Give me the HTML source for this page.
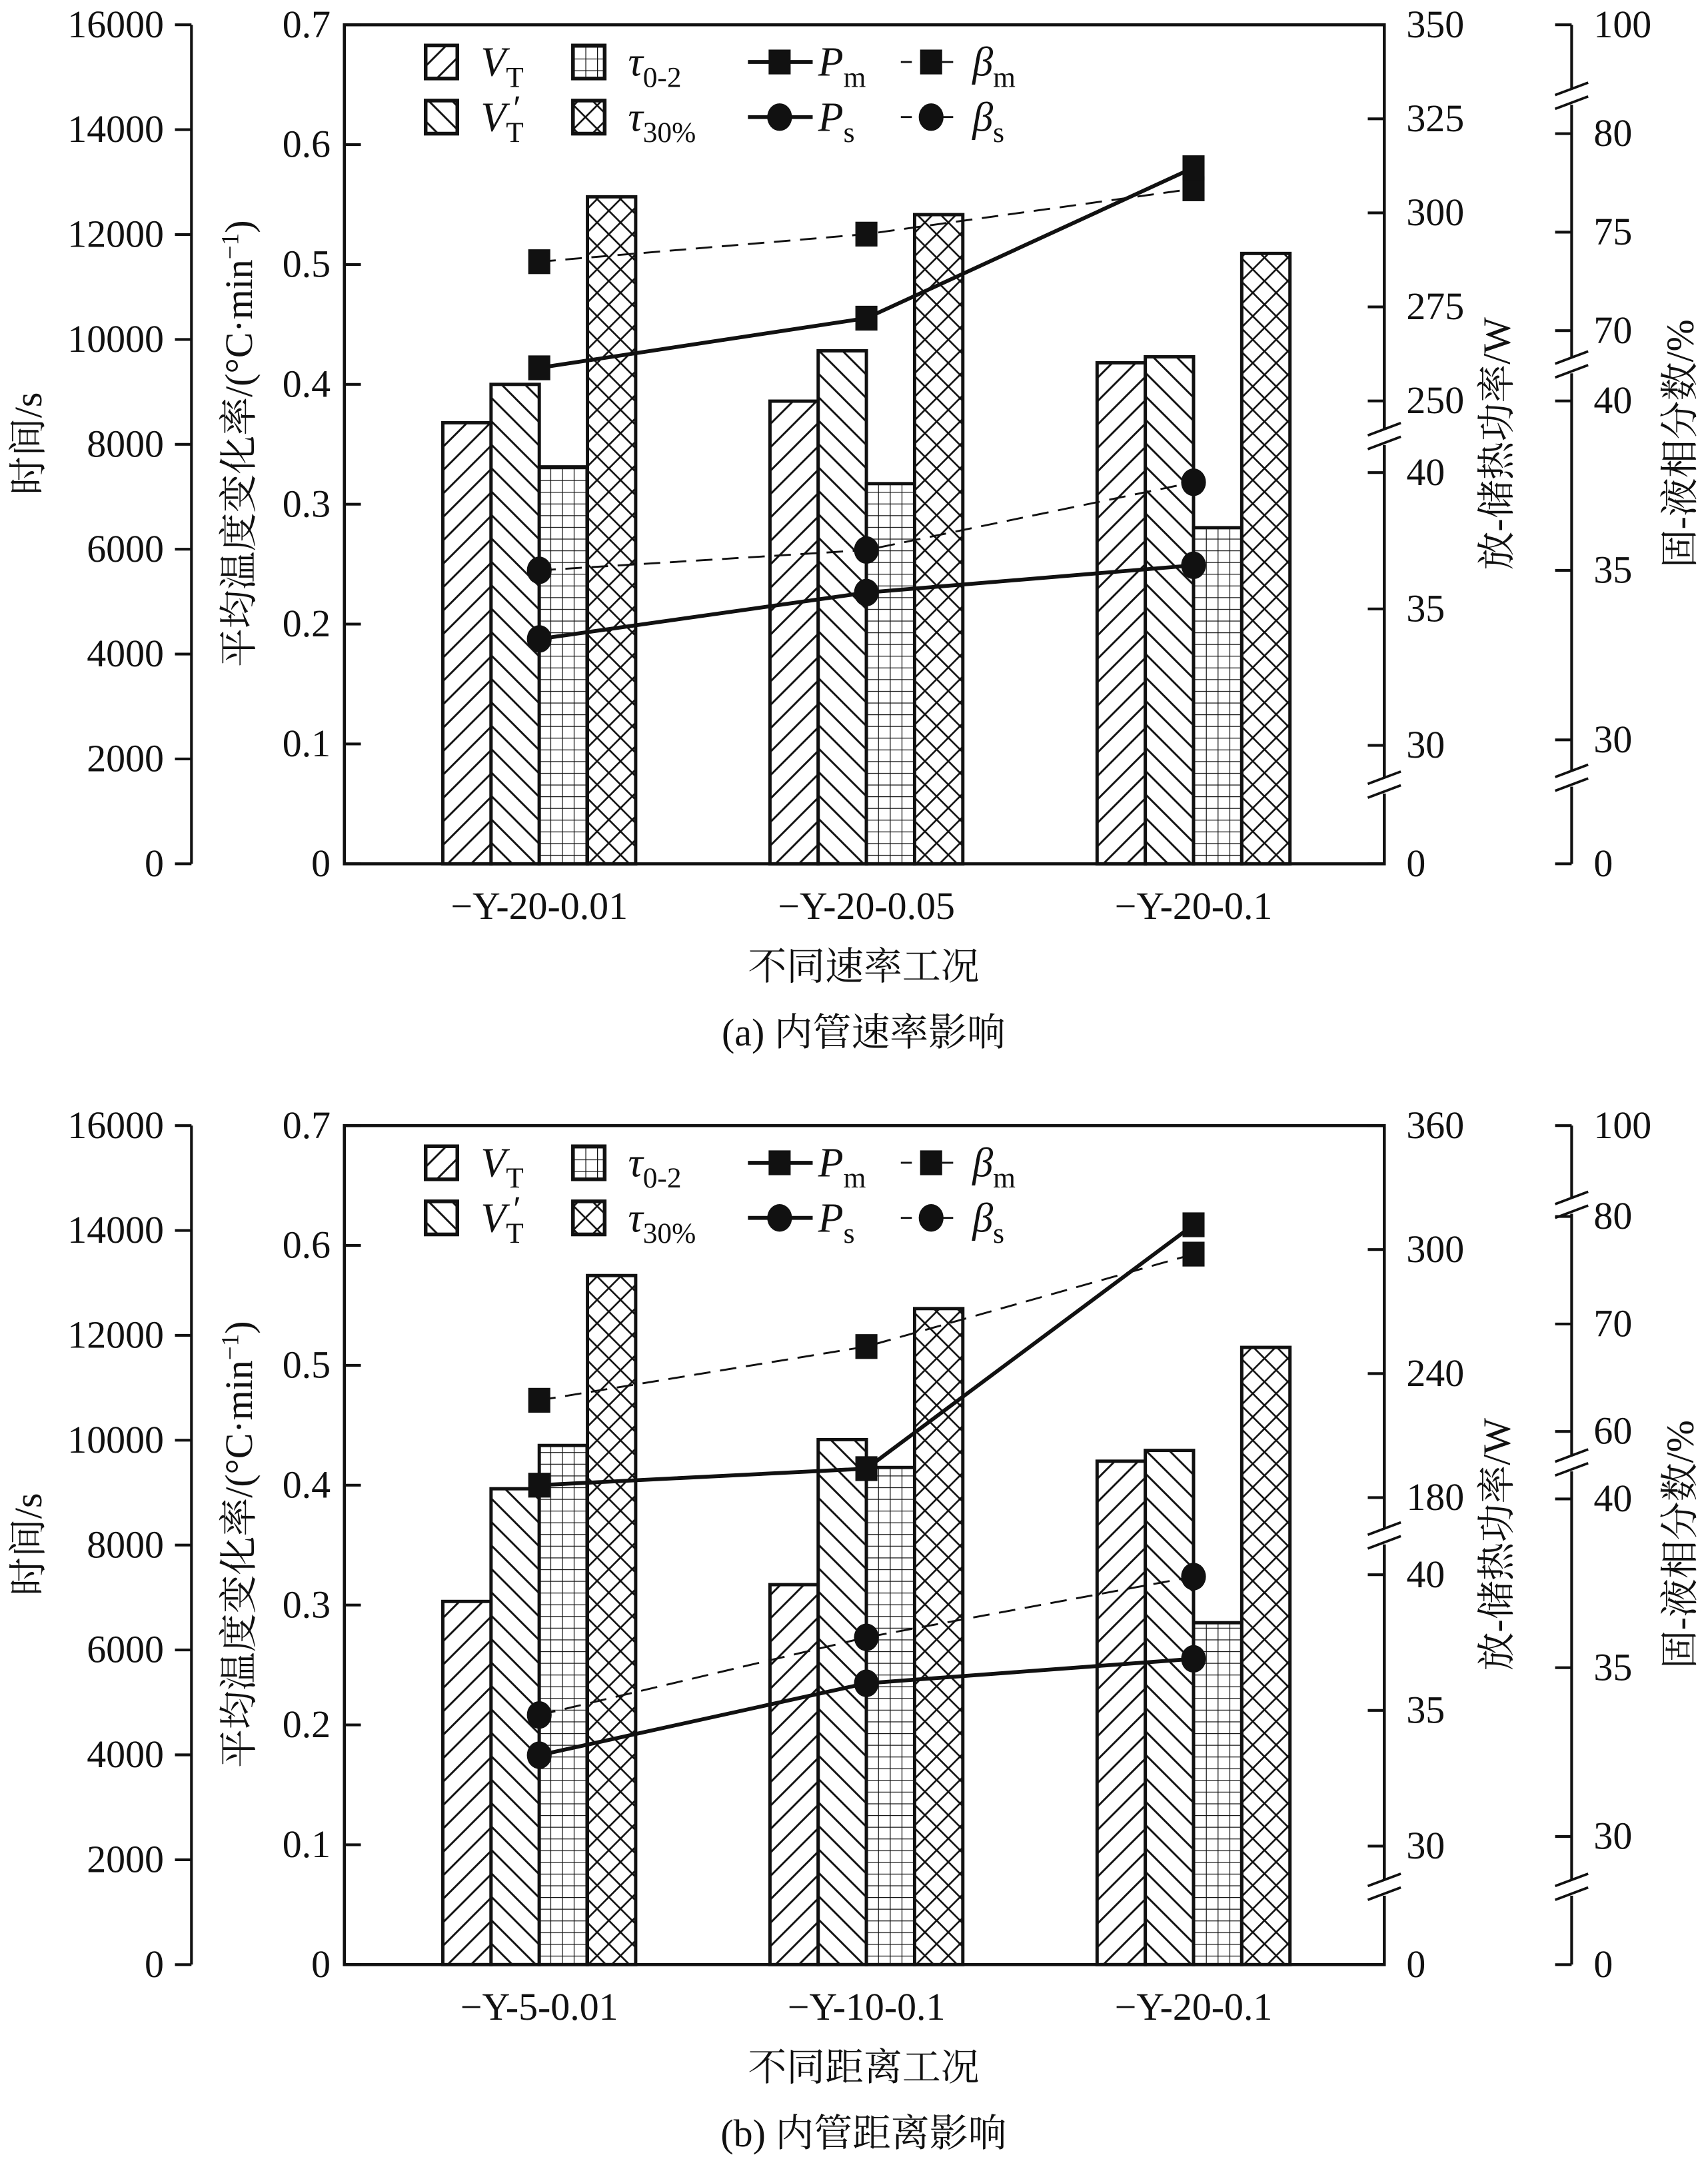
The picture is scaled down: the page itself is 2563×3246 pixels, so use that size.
<!DOCTYPE html>
<html><head><meta charset="utf-8">
<style>
html,body{margin:0;padding:0;background:#fff;}
svg{display:block;}
</style></head>
<body>
<svg id="chart" width="2563" height="3246" viewBox="0 0 1240 1570" preserveAspectRatio="none" xmlns="http://www.w3.org/2000/svg" font-family="'Liberation Serif','Times New Roman','Noto Serif CJK SC',serif" fill="#111">
<defs>
<pattern id="pFwd" patternUnits="userSpaceOnUse" width="17" height="17"><path d="M-2,19 L19,-2 M-2,2 L2,-2 M15,19 L19,15" stroke="#111" stroke-width="1.4"/></pattern>
<pattern id="pBack" patternUnits="userSpaceOnUse" width="17" height="17"><path d="M-2,-2 L19,19 M15,-2 L19,2 M-2,15 L2,19" stroke="#111" stroke-width="1.4"/></pattern>
<pattern id="pGrid" patternUnits="userSpaceOnUse" width="8.5" height="8.5"><path d="M0,0 H8.5 M0,0 V8.5" stroke="#111" stroke-width="1.2"/></pattern>
<pattern id="pCross" patternUnits="userSpaceOnUse" width="17" height="17"><path d="M-1,-1 L18,18 M-1,18 L18,-1" stroke="#111" stroke-width="1.3"/></pattern>
</defs>
<g id="root"></g>
</svg>
<script>
// ---------- data ----------
const catsA = ["−Y-20-0.01","−Y-20-0.05","−Y-20-0.1"];
const catsB = ["−Y-5-0.01","−Y-10-0.1","−Y-20-0.1"];
const vtA = [0.368,0.386,0.418];
const vtpA = [0.400,0.428,0.423];
const tau02A = [7570,7250,6410];
const tau30A = [12720,12380,11640];
const pmA = [258.8,272,312];
const betamA = [73.5,74.9,77.2];
const psA = [33.9,35.6,36.6];
const betasA = [35.0,35.6,37.6];
const vtB = [0.303,0.317,0.420];
const vtpB = [0.397,0.438,0.429];
const tau02B = [9900,9480,6520];
const tau30B = [13140,12510,11770];
const pmB = [186,194,312];
const betamB = [62.9,67.9,76.5];
const psB = [33.35,36.0,36.9];
const betasB = [33.6,35.9,37.7];
const timeTicks = [0,2000,4000,6000,8000,10000,12000,14000,16000];
const rateTicks = [0,0.1,0.2,0.3,0.4,0.5,0.6,0.7];
const powerTicksA = [0,30,35,40,250,275,300,325,350];
const powerTicksB = [0,30,35,40,180,240,300,360];
const fracTicksA = [0,30,35,40,70,75,80,100];
const fracTicksB = [0,30,35,40,60,70,80,100];
// axis knots: [value, offset from panel top]
const powerKnotsA = [[0,609],[30,523],[40,325],[250,273],[350,0]];
const powerKnotsB = [[0,609],[30,523],[40,326],[180,270],[360,0]];
const fracKnotsA = [[0,609],[30,519],[40,273],[70,222],[80,79],[100,0]];
const fracKnotsB = [[0,609],[30,516],[40,271],[60,222],[80,66],[100,0]];
// ---------- helpers ----------
const NS="http://www.w3.org/2000/svg";
const root=document.getElementById('root');
function mk(tag,attrs,parent){const e=document.createElementNS(NS,tag);for(const k in attrs)e.setAttribute(k,attrs[k]);(parent||root).appendChild(e);return e;}
function interp(knots,v){for(let i=0;i<knots.length-1;i++){const a=knots[i],b=knots[i+1];if(v<=b[0]||i===knots.length-2){return a[1]+(v-a[0])/(b[0]-a[0])*(b[1]-a[1]);}}}
const BL=250,BR=1005,H=609,TX=139,FX=1141;
function drawPanel(P){
  const top=P.top, bot=top+H;
  const g=mk('g',{});
  
  
  const yRate=v=>bot-v/0.7*H;
  const yTime=v=>bot-v/16000*H;
  const yPow=v=>top+interp(P.pk,v);
  const yFrac=v=>top+interp(P.fk,v);
  const xCat=i=>629+(i-1)*237.5;
  const bw=35;
  const series=[[P.vt,yRate,'url(#pFwd)','bar-vt'],[P.vtp,yRate,'url(#pBack)','bar-vt-prime'],[P.t02,yTime,'url(#pGrid)','bar-tau-0-2'],[P.t30,yTime,'url(#pCross)','bar-tau-30']];
  series.forEach((s,si)=>{s[0].forEach((v,i)=>{
    const x=xCat(i)-2*bw+si*bw, y=s[1](v);
    mk('rect',{x:x,y:y,width:bw,height:bot-y,fill:'#fff',stroke:'none'},g);
    const r2=mk('rect',{x:x,y:y,width:bw,height:bot-y,fill:s[2],stroke:'#111','stroke-width':2.4},g);
    
    
  });});
  function line(vals,fy,dash,marker,name){
    const pts=vals.map((v,i)=>[xCat(i),fy(v)]);
    const pl=mk('polyline',{points:pts.map(p=>p.join(',')).join(' '),fill:'none',stroke:'#111','stroke-width':dash?1.4:2.8,'stroke-dasharray':dash?'12,7':'none'},g);
    
    
    pts.forEach((p,i)=>{
      let m;
      if(marker==='sq') m=mk('rect',{x:p[0]-8,y:p[1]-9,width:16,height:18,fill:'#111'},g);
      else m=mk('ellipse',{cx:p[0],cy:p[1],rx:9,ry:10,fill:'#111'},g);
      
      
    });
  }
  line(P.bm,yFrac,true,'sq','beta-m');
  line(P.pm,yPow,false,'sq','p-m');
  line(P.bs,yFrac,true,'ci','beta-s');
  line(P.ps,yPow,false,'ci','p-s');
  const box=mk('rect',{x:BL,y:top,width:BR-BL,height:H,fill:'none',stroke:'#111','stroke-width':2.2},g);
  
  
  mk('line',{x1:TX,y1:top,x2:TX,y2:bot,stroke:'#111','stroke-width':2},g);
  timeTicks.forEach(t=>{const y=yTime(t);mk('line',{x1:TX-12,y1:y,x2:TX,y2:y,stroke:'#111','stroke-width':2},g);
    const tx=mk('text',{x:TX-20,y:y+9,'font-size':28,'text-anchor':'end'},g);tx.textContent=t;
    });
  rateTicks.forEach(t=>{const y=yRate(t);mk('line',{x1:BL,y1:y,x2:BL+12,y2:y,stroke:'#111','stroke-width':2},g);
    const tx=mk('text',{x:BL-10,y:y+9,'font-size':28,'text-anchor':'end'},g);tx.textContent=t;
    });
  P.pt.forEach(t=>{const y=yPow(t);mk('line',{x1:BR-12,y1:y,x2:BR,y2:y,stroke:'#111','stroke-width':2},g);
    const tx=mk('text',{x:BR+16,y:y+9,'font-size':28},g);tx.textContent=t;
    });
  mk('line',{x1:FX,y1:top,x2:FX,y2:bot,stroke:'#111','stroke-width':2},g);
  P.ft.forEach(t=>{const y=yFrac(t);mk('line',{x1:FX-12,y1:y,x2:FX,y2:y,stroke:'#111','stroke-width':2},g);
    const tx=mk('text',{x:FX+16,y:y+9,'font-size':28},g);tx.textContent=t;
    });
  function brk(x,y){mk('rect',{x:x-4,y:y-6,width:8,height:12,fill:'#fff'},g);
    mk('path',{d:`M${x-12},${y-1} L${x+12},${y-10} M${x-12},${y+9} L${x+12},${y}`,stroke:'#111','stroke-width':1.8,fill:'none'},g);}
  P.pb.forEach(y=>brk(BR,top+y));
  P.fb.forEach(y=>brk(FX,top+y));
  P.cats.forEach((c,i)=>{const t=mk('text',{x:xCat(i),y:bot+40,'font-size':28,'text-anchor':'middle'},g);t.textContent=c;
    });
  const xt=mk('text',{x:627,y:bot+84,'font-size':28,'text-anchor':'middle'},g);xt.textContent=P.xtitle;
  
  const cap=mk('text',{x:627,y:bot+132,'font-size':28,'text-anchor':'middle'},g);cap.textContent=P.caption;
  
  const cy=top+304;
  function vt(x,txt,name){const t=mk('text',{x:x,y:cy,'font-size':28,'text-anchor':'middle',transform:`rotate(-90 ${x} ${cy})`},g);t.innerHTML=txt;
    }
  vt(30,'时间/s','time-axis-title');
  vt(183,'平均温度变化率/(°C·min<tspan font-size="18" dy="-10">−1</tspan><tspan dy="10">)</tspan>','rate-axis-title');
  vt(1096,'放-储热功率/W','power-axis-title');
  vt(1229,'固-液相分数/%','fraction-axis-title');
  const lg=mk('g',{},g);
  
  
  const r1=top+27,r2=top+67;
  function lbox(x,y,fill){mk('rect',{x:x,y:y-12,width:23,height:24,fill:'#fff',stroke:'#111','stroke-width':2.6},lg);
    mk('rect',{x:x,y:y-12,width:23,height:24,fill:fill,stroke:'#111','stroke-width':2.6},lg);}
  function ltxt(x,y,main,sub,prime){const t=mk('text',{x:x,y:y+10,'font-size':30,'font-style':'italic'},lg);
    t.innerHTML=main+'<tspan font-style="normal" font-size="21" dy="8">'+sub+'</tspan>';
    if(prime){const p=mk('text',{x:x+22,y:y+2,'font-size':26,'font-style':'italic'},lg);p.textContent='′';}}
  lbox(309,r1,'url(#pFwd)');ltxt(349,r1,'V','T');
  lbox(309,r2,'url(#pBack)');ltxt(349,r2,'V','T',true);
  lbox(416,r1,'url(#pGrid)');ltxt(456,r1,'τ','0-2');
  lbox(416,r2,'url(#pCross)');ltxt(456,r2,'τ','30%');
  mk('line',{x1:543,y1:r1,x2:590,y2:r1,stroke:'#111','stroke-width':2.8},lg);mk('rect',{x:558,y:r1-9,width:16,height:18,fill:'#111'},lg);ltxt(594,r1,'P','m');
  mk('line',{x1:543,y1:r2,x2:590,y2:r2,stroke:'#111','stroke-width':2.8},lg);mk('ellipse',{cx:566,cy:r2,rx:9,ry:10,fill:'#111'},lg);ltxt(594,r2,'P','s');
  mk('line',{x1:654,y1:r1,x2:698,y2:r1,stroke:'#111','stroke-width':1.4,'stroke-dasharray':'8,7'},lg);mk('rect',{x:668,y:r1-9,width:16,height:18,fill:'#111'},lg);ltxt(706,r1,'β','m');
  mk('line',{x1:654,y1:r2,x2:698,y2:r2,stroke:'#111','stroke-width':1.4,'stroke-dasharray':'8,7'},lg);mk('ellipse',{cx:676,cy:r2,rx:9,ry:10,fill:'#111'},lg);ltxt(706,r2,'β','s');
}
drawPanel({name:'panel-a',top:18,cats:catsA,vt:vtA,vtp:vtpA,t02:tau02A,t30:tau30A,pm:pmA,bm:betamA,ps:psA,bs:betasA,
  pk:powerKnotsA,fk:fracKnotsA,pt:powerTicksA,ft:fracTicksA,pb:[552,299],fb:[547,247,52],xtitle:'不同速率工况',caption:'(a) 内管速率影响'});
drawPanel({name:'panel-b',top:817,cats:catsB,vt:vtB,vtp:vtpB,t02:tau02B,t30:tau30B,pm:pmB,bm:betamB,ps:psB,bs:betasB,
  pk:powerKnotsB,fk:fracKnotsB,pt:powerTicksB,ft:fracTicksB,pb:[553,298],fb:[553,245,58],xtitle:'不同距离工况',caption:'(b) 内管距离影响'});
</script>
</body></html>
